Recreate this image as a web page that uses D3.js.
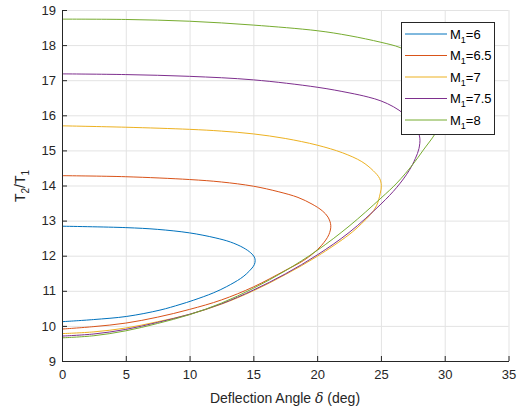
<!DOCTYPE html>
<html>
<head>
<meta charset="utf-8">
<script src="https://cdn.jsdelivr.net/npm/d3@7"></script>
<style>
  body { margin: 0; background: #fff; }
  text { font-family: "Liberation Sans", Arial, sans-serif; }
</style>
</head>
<body>
<div id="chart"></div>
<script>
// curves traced along the shock polar: upper branch from delta=0, round the nose, back to delta=0
const machLabels = ["6", "6.5", "7", "7.5", "8"];
const colors = ["#0072BD", "#D95319", "#EDB120", "#7E2F8E", "#77AC30"];

const m6 = [[0,12.84],[5,12.80],[7.5,12.75],[10,12.65],[12,12.51],[13.2,12.39],[14.2,12.23],[14.8,12.08],[15.08,11.96],[15.14,11.86],
  [15.08,11.75],[14.9,11.65],[14.48,11.49],[14.0,11.35],[12.91,11.12],[11.86,10.94],[10.29,10.73],[9.25,10.61],[7.68,10.45],[5.07,10.27],[2.46,10.18],[0,10.12]];
const m65 = [[0,14.28],[5,14.25],[10,14.17],[12.5,14.10],[15,13.98],[17,13.82],[18.5,13.66],[19.6,13.47],[20.4,13.28],[20.85,13.1],[21.07,12.86],
  [20.92,12.6],[20.36,12.30],[19.7,12.07],[18.92,11.86],[17.5,11.58],[15,11.11],[12.5,10.74],[10,10.47],[7.5,10.25],[5,10.08],[2.5,9.98],[0,9.91]];
const m7 = [[0,15.70],[5,15.66],[10,15.60],[12.5,15.55],[15,15.47],[17.5,15.34],[20,15.15],[22,14.93],[23.5,14.68],[24.4,14.42],[24.9,14.2],[25.03,14.0],
  [24.95,13.78],[24.65,13.42],[24.2,13.18],[23.5,12.92],[22.5,12.6],[20,11.98],[17.5,11.46],[15,11.0],[12.5,10.62],[10,10.33],[7.5,10.12],[5,9.94],[2.5,9.83],[0,9.78]];
const m75 = [[0,17.18],[5,17.16],[10,17.11],[15,17.01],[20,16.80],[22.5,16.64],[24,16.52],[25,16.41],[26,16.24],[26.8,16.04],[27.45,15.8],[27.85,15.58],[28.05,15.35],
  [27.98,15.05],[27.7,14.77],[27.2,14.42],[26.25,13.95],[25,13.47],[22.5,12.66],[20,12.02],[17.5,11.48],[15,11.02],[12.5,10.63],[10,10.33],[7.5,10.10],[5,9.90],[2.5,9.77],[0,9.71]];
const m8 = [[0,18.74],[5,18.73],[10,18.68],[15,18.57],[20,18.41],[22.5,18.27],[25,18.08],[26.5,17.93],[27.8,17.68],[28.8,17.38],[29.6,16.98],[30.0,16.7],[30.12,16.45],
  [30.0,16.15],[29.75,15.85],[29.24,15.47],[28.32,15.01],[27.5,14.60],[26.25,14.07],[25,13.64],[22.5,12.84],[20,12.15],[17.5,11.57],[15,11.07],[12.5,10.65],[10,10.32],[7.5,10.07],[5,9.86],[2.5,9.72],[0,9.66]];
const series = [m6, m65, m7, m75, m8];

const xTicks = [0, 5, 10, 15, 20, 25, 30, 35];
const yTicks = [9, 10, 11, 12, 13, 14, 15, 16, 17, 18, 19];

const W = 521, H = 410;
const svg = d3.select("#chart").append("svg").attr("width", W).attr("height", H);

const x = d3.scaleLinear().domain([0, 35]).range([62, 508.5]);
const y = d3.scaleLinear().domain([9, 19]).range([361, 10]);

// grid
svg.append("g")
  .attr("transform", "translate(0,361)")
  .call(d3.axisBottom(x).tickValues(xTicks).tickSize(-351).tickFormat(""))
  .call(g => g.select(".domain").remove())
  .selectAll("line").attr("stroke", "#e3e3e3");
svg.append("g")
  .attr("transform", "translate(62,0)")
  .call(d3.axisLeft(y).tickValues(yTicks).tickSize(-446.5).tickFormat(""))
  .call(g => g.select(".domain").remove())
  .selectAll("line").attr("stroke", "#e3e3e3");

// curves
const line = d3.line().x(d => x(d[0])).y(d => y(d[1])).curve(d3.curveCatmullRom.alpha(0.5));
svg.append("g").selectAll("path")
  .data(series)
  .join("path")
  .attr("d", line)
  .attr("fill", "none")
  .attr("stroke", (d, i) => colors[i])
  .attr("stroke-width", 1);

// axes
const xAxis = svg.append("g")
  .attr("transform", "translate(0,361)")
  .call(d3.axisBottom(x).tickValues(xTicks).tickSizeInner(-5).tickSizeOuter(0).tickPadding(9));
const yAxis = svg.append("g")
  .attr("transform", "translate(62,0)")
  .call(d3.axisLeft(y).tickValues(yTicks).tickSizeInner(-5).tickSizeOuter(0).tickPadding(6));
[xAxis, yAxis].forEach(a => {
  a.select(".domain").attr("stroke", "#262626");
  a.selectAll(".tick line").attr("stroke", "#262626");
  a.selectAll("text").attr("fill", "#262626").style("font-size", "13px")
    .style("font-family", "'Liberation Sans', Arial, sans-serif");
});

// labels
const xl = svg.append("text")
  .attr("x", 285).attr("y", 403)
  .attr("text-anchor", "middle")
  .attr("fill", "#262626")
  .style("font-size", "14px");
xl.append("tspan").text("Deflection Angle ");
xl.append("tspan").style("font-style", "italic").style("font-family", "'DejaVu Serif', serif").text("δ");
xl.append("tspan").text(" (deg)");

const yl = svg.append("text")
  .attr("transform", "translate(25,186) rotate(-90)")
  .attr("text-anchor", "middle")
  .attr("fill", "#262626")
  .style("font-size", "14px");
yl.append("tspan").text("T");
yl.append("tspan").attr("dy", 4).style("font-size", "10px").text("2");
yl.append("tspan").attr("dy", -4).text("/T");
yl.append("tspan").attr("dy", 4).style("font-size", "10px").text("1");

// legend
const leg = svg.append("g");
leg.append("rect")
  .attr("x", 401.5).attr("y", 22.5).attr("width", 93).attr("height", 112)
  .attr("fill", "#fff").attr("stroke", "#262626").attr("stroke-width", 1);
machLabels.forEach((m, i) => {
  const ly = 34 + i * 21.5;
  leg.append("line")
    .attr("x1", 405).attr("x2", 447).attr("y1", ly).attr("y2", ly)
    .attr("stroke", colors[i]).attr("stroke-width", 1);
  const t = leg.append("text")
    .attr("x", 450).attr("y", ly + 4.5)
    .attr("fill", "#000")
    .style("font-size", "13px");
  t.append("tspan").text("M");
  t.append("tspan").attr("dy", 4).style("font-size", "9px").text("1");
  t.append("tspan").attr("dy", -4).text("=" + m);
});
</script>
</body>
</html>
